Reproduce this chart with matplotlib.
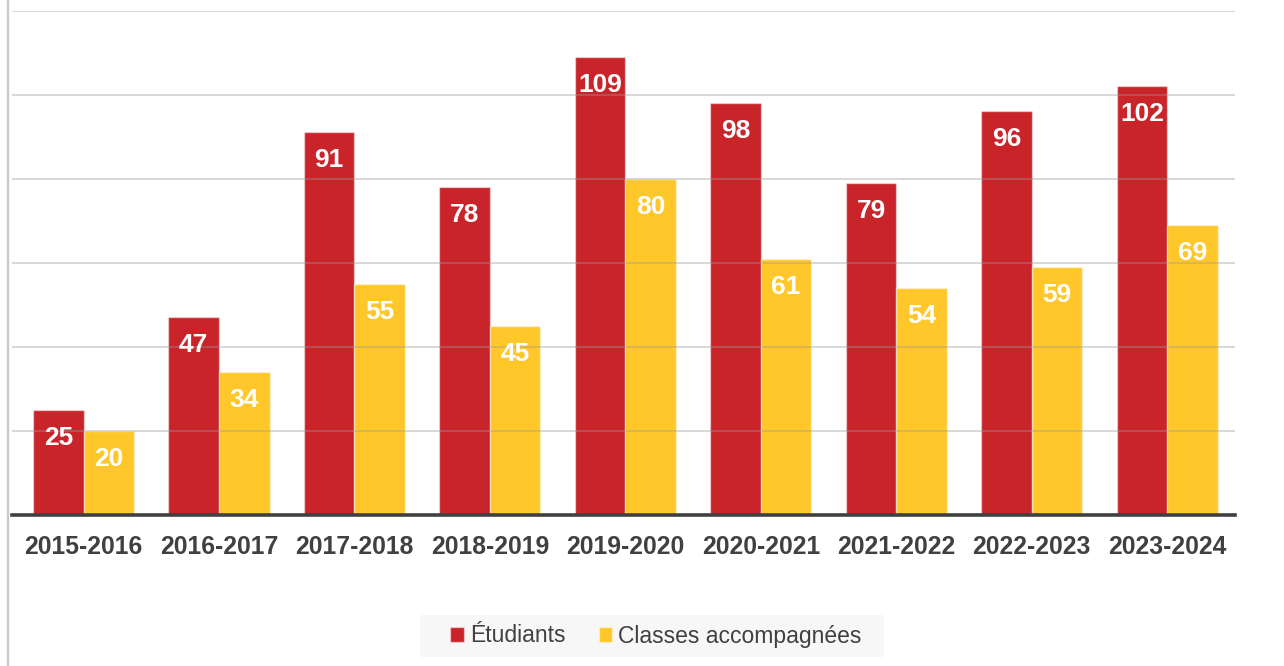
import matplotlib.pyplot as plt
import numpy as np
from matplotlib.lines import Line2D
from matplotlib.patches import Rectangle

years = ['2015-2016', '2016-2017', '2017-2018', '2018-2019', '2019-2020',
         '2020-2021', '2021-2022', '2022-2023', '2023-2024']
etudiants = [25, 47, 91, 78, 109, 98, 79, 96, 102]
classes = [20, 34, 55, 45, 80, 61, 54, 59, 69]

red = '#C8242A'
yellow = '#FFC729'
dark = '#404040'

plt.rcParams['font.family'] = ['Liberation Sans', 'DejaVu Sans']

fig = plt.figure(figsize=(12.84, 6.66), dpi=100)
ax = fig.add_axes([12 / 1284, 1 - 515 / 666, (1235 - 12) / 1284, (515 - 10.5) / 666])

x = np.arange(len(years))
w = 0.373
b1 = ax.bar(x - w / 2, etudiants, w, color=red, edgecolor=(1, 1, 1, 0.45), linewidth=1, zorder=2,
            label='Étudiants')
b2 = ax.bar(x + w / 2, classes, w, color=yellow, edgecolor=(1, 1, 1, 0.45), linewidth=1, zorder=2,
            label='Classes accompagnées')

# value labels inside the top of each bar
for bars, vals in ((b1, etudiants), (b2, classes)):
    for r, v in zip(bars, vals):
        ax.annotate(str(v), (r.get_x() + r.get_width() / 2, v), xytext=(0, -28 * 0.72),
                    textcoords='offset points', ha='center', va='center',
                    color='white', fontsize=19, fontweight='bold', zorder=4)

ax.set_ylim(0, 120)
ax.set_xlim(-0.528, 8.5)
ax.set_yticks([20, 40, 60, 80, 100, 120])
ax.yaxis.grid(True, color='#9a9a9a', alpha=0.45, linewidth=1.2, zorder=3)
ax.set_axisbelow(False)
ax.tick_params(axis='y', left=False, labelleft=False)
ax.tick_params(axis='x', bottom=False, pad=11, labelsize=17.8, labelcolor=dark)
ax.set_xticks(x)
ax.set_xticklabels(years, fontweight='bold')
for s in ('top', 'right', 'left'):
    ax.spines[s].set_visible(False)
ax.spines['bottom'].set_color(dark)
ax.spines['bottom'].set_linewidth(2.6)
ax.spines['bottom'].set_zorder(5)

# legend background box (wider padding left/right than top/bottom)
fig.add_artist(Rectangle((420 / 1284, 1 - 657 / 666), 464 / 1284, 42 / 666,
                         transform=fig.transFigure, facecolor='#F7F7F7', edgecolor='none'))
leg = fig.legend(handles=[b1, b2], loc='center', bbox_to_anchor=(656 / 1284, 1 - 636 / 666),
                 ncol=2, frameon=False, fontsize=16.5, handlelength=0.6, handleheight=0.6,
                 handletextpad=0.25, columnspacing=1.45, borderpad=0.4, labelcolor=dark,
                 borderaxespad=0)
for h in leg.legend_handles:
    h.set_edgecolor((1, 1, 1, 0.45))

# light border on the left of the frame
fig.add_artist(Line2D([7.5 / 1284, 7.5 / 1284], [0, 1], color='#C8C8C8', linewidth=1.6))

fig.savefig('out.png', dpi=100)
